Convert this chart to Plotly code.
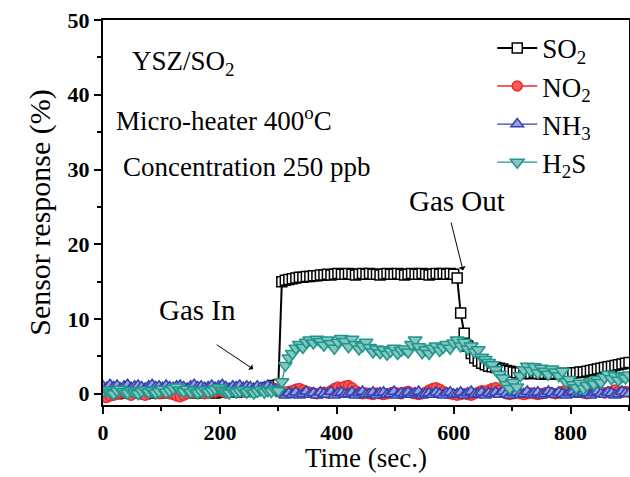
import plotly.graph_objects as go

# time grid (s), 6 s sampling
time_s = list(range(0, 901, 6))

so2 = [0.2, 0.1, 0.3, 0.2, 0.0, 0.1, 0.3, 0.2, 0.1, 0.2,
       0.3, 0.1, 0.0, 0.2, 0.3, 0.1, 0.2, 0.2, 0.1, 0.3,
       0.2, 0.1, 0.3, 0.2, 0.2, 0.1, 0.3, 0.2, 0.1, 0.2,
       0.3, 0.2, 0.1, 0.2, 0.3, 0.2, 0.2, 0.3, 0.2, 0.3,
       0.3, 0.4, 0.3, 0.4, 0.5, 0.5, 0.6, 0.8, 0.9, 1.1,
       1.2, 15.0, 15.2, 15.3, 15.4, 15.5, 15.6, 15.6, 15.7, 15.7,
       15.8, 15.8, 15.9, 15.9, 16.0, 15.9, 16.0, 16.1, 16.0, 16.0,
       16.1, 16.0, 15.9, 16.0, 16.1, 16.0, 16.1, 16.0, 16.0, 15.9,
       16.0, 16.1, 16.0, 16.0, 16.1, 16.0, 15.9, 16.0, 16.1, 16.0,
       16.0, 16.1, 16.0, 15.9, 16.0, 16.1, 16.0, 16.1, 16.0, 16.1,
       16.0, 15.5, 10.8, 8.1, 6.4, 5.4, 4.8, 4.4, 4.1, 3.9,
       3.7, 3.6, 3.5, 3.4, 3.3, 3.1, 3.0, 2.9, 2.8, 2.8,
       2.7, 2.7, 2.7, 2.8, 2.7, 2.6, 2.7, 2.7, 2.6, 2.7,
       2.7, 2.6, 2.7, 2.7, 2.8, 2.8, 2.9, 2.9, 3.0, 3.1,
       3.2, 3.3, 3.4, 3.5, 3.6, 3.7, 3.8, 3.9, 4.0, 4.1,
       4.2]

no2 = [-0.4, -0.5, -0.3, -0.2, 0.0, 0.1, 0.2, 0.0, -0.2, 0.1,
       0.2, 0.0, -0.2, 0.1, 0.3, 0.2, 0.0, 0.1, 0.2, 0.0,
       -0.1, -0.3, -0.4, -0.2, 0.0, 0.2, 0.1, 0.3, 0.2, 0.0,
       0.1, 0.3, 0.2, 0.4, 0.3, 0.1, 0.2, 0.3, 0.2, 0.4,
       0.3, 0.4, 0.5, 0.3, 0.4, 0.5, 0.6, 0.5, 0.6, 0.7,
       0.5, 0.3, 0.2, 0.3, 0.4, 0.6, 0.7, 0.5, 0.3, 0.2,
       0.1, 0.0, 0.1, 0.2, 0.1, 0.4, 0.7, 0.9, 0.8, 1.0,
       1.1, 0.8, 0.4, 0.1, 0.0, 0.1, 0.0, -0.1, 0.1, 0.0,
       -0.1, 0.0, 0.1, 0.2, 0.1, 0.0, 0.2, 0.3, 0.1, 0.0,
       -0.1, 0.0, 0.2, 0.5, 0.7, 0.8, 0.6, 0.3, 0.1, 0.0,
       -0.1, -0.2, -0.1, 0.0, -0.1, -0.2, 0.0, 0.2, 0.4, 0.3,
       0.5, 0.7, 0.8, 0.5, 0.2, 0.0, -0.1, 0.0, 0.1, 0.0,
       -0.1, 0.0, 0.1, 0.0, -0.1, 0.0, 0.1, 0.2, 0.1, 0.0,
       0.1, 0.3, 0.5, 0.8, 0.9, 0.6, 0.3, 0.1, 0.0, 0.1,
       0.2, 0.3, 0.2, 0.1, 0.2, 0.3, 0.5, 0.3, 0.2, 0.3,
       0.2]

nh3 = [1.0, 0.8, 1.2, 0.9, 1.1, 0.7, 1.0, 1.2, 0.8, 1.0,
       1.1, 0.9, 0.7, 1.0, 1.2, 0.9, 1.0, 0.8, 1.1, 0.9,
       0.8, 1.0, 1.1, 0.9, 0.7, 1.0, 1.2, 0.9, 1.0, 0.8,
       0.9, 1.1, 0.8, 1.0, 1.2, 0.9, 0.7, 1.0, 0.9, 1.1,
       0.8, 1.0, 0.9, 0.7, 1.0, 0.8, 0.9, 1.1, 0.8, 0.6,
       0.3, 0.0, -0.2, 0.1, -0.1, 0.2, -0.2, 0.0, 0.3, -0.1,
       0.1, -0.2, 0.2, 0.0, -0.1, 0.3, -0.2, 0.1, 0.2, -0.1,
       0.0, 0.2, -0.2, 0.1, 0.3, -0.1, 0.0, 0.2, -0.2, 0.1,
       0.2, -0.1, 0.0, 0.3, -0.2, 0.1, 0.0, 0.2, -0.1, 0.1,
       0.3, -0.2, 0.0, 0.1, -0.1, 0.2, 0.0, -0.2, 0.1, 0.2,
       -0.1, 0.0, 0.2, -0.2, 0.1, 0.3, -0.1, 0.0, 0.2, -0.2,
       0.1, 0.0, 0.2, -0.1, 0.3, 0.0, -0.2, 0.1, 0.2, -0.1,
       0.0, 0.3, -0.1, 0.1, 0.2, -0.2, 0.0, 0.3, 0.1, -0.1,
       0.2, 0.0, -0.2, 0.1, 0.3, -0.1, 0.0, 0.2, 0.1, -0.2,
       0.1, 0.3, 0.0, -0.1, 0.2, 0.1, -0.2, 0.0, 0.3, 0.1,
       0.0]

h2s = [0.3, 0.5, 0.2, 0.0, 0.4, 0.6, 0.3, 0.1, 0.4, 0.2,
       0.0, 0.3, 0.5, 0.2, 0.4, 0.1, 0.3, 0.6, 0.2, 0.4,
       0.7, 0.9, 0.5, 0.3, 0.6, 0.2, 0.4, 0.1, 0.3, 0.5,
       0.2, 0.4, 0.6, 0.8, 0.5, 0.3, 0.1, 0.4, 0.2, 0.3,
       0.5, 0.2, 0.4, 0.1, 0.3, 0.5, 0.2, 0.4, 0.3, 0.6,
       0.4, 1.6, 3.8, 4.8, 5.4, 6.1, 6.6, 6.2, 6.9, 7.2,
       6.8, 7.3, 7.0, 6.5, 7.2, 6.7, 6.1, 6.9, 7.4, 7.0,
       6.3, 7.3, 6.6, 6.0, 6.4, 6.9, 6.2, 5.6, 6.0, 5.5,
       5.9, 5.3, 5.7, 6.1, 5.4, 5.8, 6.0, 5.6, 6.6, 7.2,
       6.3, 5.5, 5.9, 5.4, 6.1, 6.4, 5.8, 6.2, 6.6, 6.1,
       6.8, 7.2, 6.4, 6.9, 6.0, 6.4, 5.6, 5.9, 4.9, 4.6,
       4.2, 3.9, 3.2, 2.6, 2.1, 1.2, 0.7, 1.5, 0.9, 2.4,
       3.2, 3.7, 3.1, 3.6, 2.8, 3.4, 3.0, 2.6, 3.3, 2.9,
       2.4, 3.0, 1.6, 1.9, 1.2, 0.8, 1.4, 0.7, 1.1, 1.6,
       1.3, 1.9, 1.5, 2.2, 2.6, 2.0, 2.4, 1.8, 2.3, 2.1,
       2.5]

series_names = ["SO<sub>2</sub>", "NO<sub>2</sub>", "NH<sub>3</sub>", "H<sub>2</sub>S"]
series_vals = [so2, no2, nh3, h2s]
line_colors = ["#000000", "#f02828", "#3441b0", "#1f968b"]
fill_colors = ["#ffffff", "#f55a5a", "#9aa0dc", "#86c6c0"]
symbols = ["square", "circle", "triangle-up", "triangle-down"]
marker_sizes = [10, 10, 11, 12]
line_widths = [2, 1.3, 1.3, 1.3]

FONT = "Liberation Serif"

fig = go.Figure()
for name, vals, lc, fc, sym, ms, lw in zip(series_names, series_vals, line_colors,
                                           fill_colors, symbols, marker_sizes,
                                           line_widths):
    fig.add_trace(go.Scatter(
        x=time_s, y=vals, name=name, mode="lines+markers",
        line=dict(color=lc, width=lw),
        marker=dict(symbol=sym, size=ms, color=fc,
                    line=dict(color=lc, width=1.5)),
    ))

axis_common = dict(
    showline=True, linecolor="black", linewidth=2, mirror=True,
    ticks="outside", ticklen=7, tickwidth=2, tickcolor="black",
    showgrid=False, zeroline=False, automargin=False,
    tickfont=dict(family=FONT, size=22, color="black", weight="bold"),
)

fig.update_xaxes(range=[0, 900], tick0=0, dtick=200,
                 minor=dict(dtick=100, ticks="outside", ticklen=4, tickwidth=2,
                            tickcolor="black"),
                 **axis_common)
fig.update_yaxes(range=[-1.5, 50], tick0=0, dtick=10,
                 minor=dict(dtick=5, ticks="outside", ticklen=4, tickwidth=2,
                            tickcolor="black"),
                 title=dict(text="Sensor response (%)", standoff=8,
                            font=dict(family=FONT, size=30, color="black")),
                 **axis_common)

# x-axis title as a paper-anchored text so it sits just under the tick labels
fig.add_annotation(x=0.5, y=-0.138, xref="paper", yref="paper",
                   xanchor="center", yanchor="middle", text="Time (sec.)",
                   showarrow=False, font=dict(family=FONT, size=27, color="black"))

ann_font = dict(family=FONT, size=27, color="black")
gas_font = dict(family=FONT, size=29, color="black")
fig.add_annotation(x=46, y=44.2, xref="x", yref="y", xanchor="left", yanchor="middle",
                   text="YSZ/SO<sub>2</sub>", showarrow=False, font=ann_font)
fig.add_annotation(x=18, y=36.8, xref="x", yref="y", xanchor="left", yanchor="middle",
                   text="Micro-heater 400<sup>o</sup>C", showarrow=False, font=ann_font)
fig.add_annotation(x=30, y=30.4, xref="x", yref="y", xanchor="left", yanchor="middle",
                   text="Concentration 250 ppb", showarrow=False, font=ann_font)
fig.add_annotation(x=161, y=11.2, xref="x", yref="y", text="Gas In",
                   showarrow=False, font=gas_font)
fig.add_annotation(x=606, y=25.8, xref="x", yref="y", text="Gas Out",
                   showarrow=False, font=gas_font)
fig.add_annotation(x=257, y=3.3, ax=192, ay=6.7, xref="x", yref="y",
                   axref="x", ayref="y", text="", showarrow=True,
                   arrowhead=1, arrowsize=1.2, arrowwidth=1, arrowcolor="black")
fig.add_annotation(x=616, y=16.5, ax=595, ay=23.1, xref="x", yref="y",
                   axref="x", ayref="y", text="", showarrow=True,
                   arrowhead=1, arrowsize=1.2, arrowwidth=1, arrowcolor="black")

fig.update_layout(
    width=630, height=477,
    margin=dict(l=103, r=1, t=20, b=72),
    paper_bgcolor="white", plot_bgcolor="white",
    font=dict(family=FONT, color="black"),
    showlegend=True,
    legend=dict(x=0.74, y=0.99, xanchor="left", yanchor="top",
                bgcolor="rgba(0,0,0,0)", borderwidth=0,
                font=dict(family=FONT, size=27, color="black"),
                itemwidth=40, tracegroupgap=0),
)

fig.write_html("out.html")
